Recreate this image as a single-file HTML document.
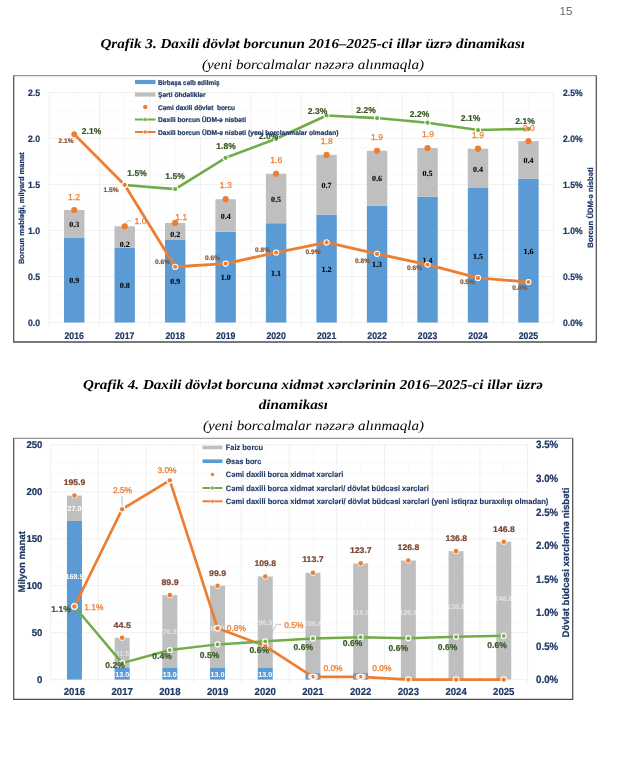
<!DOCTYPE html>
<html lang="az"><head><meta charset="utf-8"><title>Qrafik 3-4</title>
<style>html,body{margin:0;padding:0;background:#fff}body{width:620px;height:760px;overflow:hidden;font-family:"Liberation Sans",sans-serif}svg{display:block;will-change:transform;transform:translateZ(0);text-rendering:geometricPrecision}</style></head>
<body>
<svg width="620" height="760" viewBox="0 0 620 760">
<rect x="0" y="0" width="620" height="760" fill="#ffffff"/>
<text x="566.00" y="15.42" font-family='"Liberation Sans", sans-serif' font-size="11.5" font-weight="normal" font-style="normal" fill="#6b6b6b" text-anchor="middle" >15</text>
<text x="100.4" y="48.2" font-family='"Liberation Serif", serif' font-size="13.6" font-weight="bold" font-style="italic" fill="#000" text-anchor="start" textLength="424.6" lengthAdjust="spacingAndGlyphs">Qrafik 3. Daxili dövlət borcunun 2016–2025-ci illər üzrə dinamikası</text>
<text x="202.0" y="68.6" font-family='"Liberation Serif", serif' font-size="13.6" font-weight="normal" font-style="italic" fill="#000" text-anchor="start" textLength="222.0" lengthAdjust="spacingAndGlyphs">(yeni borcalmalar nəzərə alınmaqla)</text>
<text x="83.0" y="389.2" font-family='"Liberation Serif", serif' font-size="13.6" font-weight="bold" font-style="italic" fill="#000" text-anchor="start" textLength="460.0" lengthAdjust="spacingAndGlyphs">Qrafik 4. Daxili dövlət borcuna xidmət xərclərinin 2016–2025-ci illər üzrə</text>
<text x="258.7" y="409.4" font-family='"Liberation Serif", serif' font-size="13.6" font-weight="bold" font-style="italic" fill="#000" text-anchor="start" textLength="69.3" lengthAdjust="spacingAndGlyphs">dinamikası</text>
<text x="203.0" y="429.6" font-family='"Liberation Serif", serif' font-size="13.6" font-weight="normal" font-style="italic" fill="#000" text-anchor="start" textLength="221.0" lengthAdjust="spacingAndGlyphs">(yeni borcalmalar nəzərə alınmaqla)</text>
<line x1="13.10" y1="75.70" x2="596.90" y2="75.70" stroke="#969696" stroke-width="1.3" />
<line x1="13.10" y1="342.00" x2="596.90" y2="342.00" stroke="#4c4c4c" stroke-width="1.3" />
<line x1="13.70" y1="75.70" x2="13.70" y2="341.80" stroke="#505050" stroke-width="1.25" />
<line x1="596.30" y1="75.70" x2="596.30" y2="341.80" stroke="#505050" stroke-width="1.25" />
<line x1="49.00" y1="313.30" x2="553.70" y2="313.30" stroke="#f8f8f8" stroke-width="0.7" />
<line x1="49.00" y1="304.10" x2="553.70" y2="304.10" stroke="#f8f8f8" stroke-width="0.7" />
<line x1="49.00" y1="294.90" x2="553.70" y2="294.90" stroke="#f8f8f8" stroke-width="0.7" />
<line x1="49.00" y1="285.70" x2="553.70" y2="285.70" stroke="#f8f8f8" stroke-width="0.7" />
<line x1="49.00" y1="267.30" x2="553.70" y2="267.30" stroke="#f8f8f8" stroke-width="0.7" />
<line x1="49.00" y1="258.10" x2="553.70" y2="258.10" stroke="#f8f8f8" stroke-width="0.7" />
<line x1="49.00" y1="248.90" x2="553.70" y2="248.90" stroke="#f8f8f8" stroke-width="0.7" />
<line x1="49.00" y1="239.70" x2="553.70" y2="239.70" stroke="#f8f8f8" stroke-width="0.7" />
<line x1="49.00" y1="221.30" x2="553.70" y2="221.30" stroke="#f8f8f8" stroke-width="0.7" />
<line x1="49.00" y1="212.10" x2="553.70" y2="212.10" stroke="#f8f8f8" stroke-width="0.7" />
<line x1="49.00" y1="202.90" x2="553.70" y2="202.90" stroke="#f8f8f8" stroke-width="0.7" />
<line x1="49.00" y1="193.70" x2="553.70" y2="193.70" stroke="#f8f8f8" stroke-width="0.7" />
<line x1="49.00" y1="175.30" x2="553.70" y2="175.30" stroke="#f8f8f8" stroke-width="0.7" />
<line x1="49.00" y1="166.10" x2="553.70" y2="166.10" stroke="#f8f8f8" stroke-width="0.7" />
<line x1="49.00" y1="156.90" x2="553.70" y2="156.90" stroke="#f8f8f8" stroke-width="0.7" />
<line x1="49.00" y1="147.70" x2="553.70" y2="147.70" stroke="#f8f8f8" stroke-width="0.7" />
<line x1="49.00" y1="129.30" x2="553.70" y2="129.30" stroke="#f8f8f8" stroke-width="0.7" />
<line x1="49.00" y1="120.10" x2="553.70" y2="120.10" stroke="#f8f8f8" stroke-width="0.7" />
<line x1="49.00" y1="110.90" x2="553.70" y2="110.90" stroke="#f8f8f8" stroke-width="0.7" />
<line x1="49.00" y1="101.70" x2="553.70" y2="101.70" stroke="#f8f8f8" stroke-width="0.7" />
<line x1="74.23" y1="92.50" x2="74.23" y2="322.50" stroke="#f8f8f8" stroke-width="0.7" />
<line x1="124.71" y1="92.50" x2="124.71" y2="322.50" stroke="#f8f8f8" stroke-width="0.7" />
<line x1="175.18" y1="92.50" x2="175.18" y2="322.50" stroke="#f8f8f8" stroke-width="0.7" />
<line x1="225.65" y1="92.50" x2="225.65" y2="322.50" stroke="#f8f8f8" stroke-width="0.7" />
<line x1="276.12" y1="92.50" x2="276.12" y2="322.50" stroke="#f8f8f8" stroke-width="0.7" />
<line x1="326.59" y1="92.50" x2="326.59" y2="322.50" stroke="#f8f8f8" stroke-width="0.7" />
<line x1="377.06" y1="92.50" x2="377.06" y2="322.50" stroke="#f8f8f8" stroke-width="0.7" />
<line x1="427.53" y1="92.50" x2="427.53" y2="322.50" stroke="#f8f8f8" stroke-width="0.7" />
<line x1="478.00" y1="92.50" x2="478.00" y2="322.50" stroke="#f8f8f8" stroke-width="0.7" />
<line x1="528.47" y1="92.50" x2="528.47" y2="322.50" stroke="#f8f8f8" stroke-width="0.7" />
<line x1="49.00" y1="322.50" x2="553.70" y2="322.50" stroke="#ececec" stroke-width="0.8" />
<line x1="49.00" y1="276.50" x2="553.70" y2="276.50" stroke="#ececec" stroke-width="0.8" />
<line x1="49.00" y1="230.50" x2="553.70" y2="230.50" stroke="#ececec" stroke-width="0.8" />
<line x1="49.00" y1="184.50" x2="553.70" y2="184.50" stroke="#ececec" stroke-width="0.8" />
<line x1="49.00" y1="138.50" x2="553.70" y2="138.50" stroke="#ececec" stroke-width="0.8" />
<line x1="49.00" y1="92.50" x2="553.70" y2="92.50" stroke="#ececec" stroke-width="0.8" />
<line x1="49.00" y1="92.50" x2="49.00" y2="325.50" stroke="#ececec" stroke-width="0.8" />
<line x1="99.47" y1="92.50" x2="99.47" y2="325.50" stroke="#ececec" stroke-width="0.8" />
<line x1="149.94" y1="92.50" x2="149.94" y2="325.50" stroke="#ececec" stroke-width="0.8" />
<line x1="200.41" y1="92.50" x2="200.41" y2="325.50" stroke="#ececec" stroke-width="0.8" />
<line x1="250.88" y1="92.50" x2="250.88" y2="325.50" stroke="#ececec" stroke-width="0.8" />
<line x1="301.35" y1="92.50" x2="301.35" y2="325.50" stroke="#ececec" stroke-width="0.8" />
<line x1="351.82" y1="92.50" x2="351.82" y2="325.50" stroke="#ececec" stroke-width="0.8" />
<line x1="402.29" y1="92.50" x2="402.29" y2="325.50" stroke="#ececec" stroke-width="0.8" />
<line x1="452.76" y1="92.50" x2="452.76" y2="325.50" stroke="#ececec" stroke-width="0.8" />
<line x1="503.23" y1="92.50" x2="503.23" y2="325.50" stroke="#ececec" stroke-width="0.8" />
<line x1="553.70" y1="92.50" x2="553.70" y2="325.50" stroke="#ececec" stroke-width="0.8" />
<rect x="64.03" y="237.49" width="20.40" height="85.01" fill="#5b9bd5" />
<rect x="64.03" y="209.98" width="20.40" height="27.51" fill="#bfbfbf" />
<rect x="114.51" y="247.52" width="20.40" height="74.98" fill="#5b9bd5" />
<rect x="114.51" y="226.27" width="20.40" height="21.25" fill="#bfbfbf" />
<rect x="164.98" y="239.52" width="20.40" height="82.98" fill="#5b9bd5" />
<rect x="164.98" y="222.96" width="20.40" height="16.56" fill="#bfbfbf" />
<rect x="215.45" y="231.70" width="20.40" height="90.80" fill="#5b9bd5" />
<rect x="215.45" y="199.22" width="20.40" height="32.48" fill="#bfbfbf" />
<rect x="265.92" y="223.23" width="20.40" height="99.27" fill="#5b9bd5" />
<rect x="265.92" y="173.74" width="20.40" height="49.50" fill="#bfbfbf" />
<rect x="316.39" y="214.49" width="20.40" height="108.01" fill="#5b9bd5" />
<rect x="316.39" y="154.88" width="20.40" height="59.62" fill="#bfbfbf" />
<rect x="366.86" y="205.75" width="20.40" height="116.75" fill="#5b9bd5" />
<rect x="366.86" y="150.74" width="20.40" height="55.02" fill="#bfbfbf" />
<rect x="417.33" y="196.74" width="20.40" height="125.76" fill="#5b9bd5" />
<rect x="417.33" y="147.98" width="20.40" height="48.76" fill="#bfbfbf" />
<rect x="467.80" y="188.00" width="20.40" height="134.50" fill="#5b9bd5" />
<rect x="467.80" y="148.71" width="20.40" height="39.28" fill="#bfbfbf" />
<rect x="518.26" y="178.61" width="20.40" height="143.89" fill="#5b9bd5" />
<rect x="518.26" y="141.08" width="20.40" height="37.54" fill="#bfbfbf" />
<text x="74.23" y="283.26" font-family='"Liberation Serif", serif' font-size="8.0" font-weight="bold" font-style="normal" fill="#000" text-anchor="middle" stroke="#000" stroke-width="0.08">0.9</text>
<text x="74.23" y="226.90" font-family='"Liberation Serif", serif' font-size="8.0" font-weight="bold" font-style="normal" fill="#000" text-anchor="middle" stroke="#000" stroke-width="0.08">0.3</text>
<text x="124.71" y="288.27" font-family='"Liberation Serif", serif' font-size="8.0" font-weight="bold" font-style="normal" fill="#000" text-anchor="middle" stroke="#000" stroke-width="0.08">0.8</text>
<text x="124.71" y="247.16" font-family='"Liberation Serif", serif' font-size="8.0" font-weight="bold" font-style="normal" fill="#000" text-anchor="middle" stroke="#000" stroke-width="0.08">0.2</text>
<text x="175.18" y="284.27" font-family='"Liberation Serif", serif' font-size="8.0" font-weight="bold" font-style="normal" fill="#000" text-anchor="middle" stroke="#000" stroke-width="0.08">0.9</text>
<text x="175.18" y="236.86" font-family='"Liberation Serif", serif' font-size="8.0" font-weight="bold" font-style="normal" fill="#000" text-anchor="middle" stroke="#000" stroke-width="0.08">0.2</text>
<text x="225.65" y="280.36" font-family='"Liberation Serif", serif' font-size="8.0" font-weight="bold" font-style="normal" fill="#000" text-anchor="middle" stroke="#000" stroke-width="0.08">1.0</text>
<text x="225.65" y="218.62" font-family='"Liberation Serif", serif' font-size="8.0" font-weight="bold" font-style="normal" fill="#000" text-anchor="middle" stroke="#000" stroke-width="0.08">0.4</text>
<text x="276.12" y="276.13" font-family='"Liberation Serif", serif' font-size="8.0" font-weight="bold" font-style="normal" fill="#000" text-anchor="middle" stroke="#000" stroke-width="0.08">1.1</text>
<text x="276.12" y="201.65" font-family='"Liberation Serif", serif' font-size="8.0" font-weight="bold" font-style="normal" fill="#000" text-anchor="middle" stroke="#000" stroke-width="0.08">0.5</text>
<text x="326.59" y="271.76" font-family='"Liberation Serif", serif' font-size="8.0" font-weight="bold" font-style="normal" fill="#000" text-anchor="middle" stroke="#000" stroke-width="0.08">1.2</text>
<text x="326.59" y="187.85" font-family='"Liberation Serif", serif' font-size="8.0" font-weight="bold" font-style="normal" fill="#000" text-anchor="middle" stroke="#000" stroke-width="0.08">0.7</text>
<text x="377.06" y="267.39" font-family='"Liberation Serif", serif' font-size="8.0" font-weight="bold" font-style="normal" fill="#000" text-anchor="middle" stroke="#000" stroke-width="0.08">1.3</text>
<text x="377.06" y="181.41" font-family='"Liberation Serif", serif' font-size="8.0" font-weight="bold" font-style="normal" fill="#000" text-anchor="middle" stroke="#000" stroke-width="0.08">0.6</text>
<text x="427.53" y="262.88" font-family='"Liberation Serif", serif' font-size="8.0" font-weight="bold" font-style="normal" fill="#000" text-anchor="middle" stroke="#000" stroke-width="0.08">1.4</text>
<text x="427.53" y="175.52" font-family='"Liberation Serif", serif' font-size="8.0" font-weight="bold" font-style="normal" fill="#000" text-anchor="middle" stroke="#000" stroke-width="0.08">0.5</text>
<text x="478.00" y="258.51" font-family='"Liberation Serif", serif' font-size="8.0" font-weight="bold" font-style="normal" fill="#000" text-anchor="middle" stroke="#000" stroke-width="0.08">1.5</text>
<text x="478.00" y="171.52" font-family='"Liberation Serif", serif' font-size="8.0" font-weight="bold" font-style="normal" fill="#000" text-anchor="middle" stroke="#000" stroke-width="0.08">0.4</text>
<text x="528.47" y="253.82" font-family='"Liberation Serif", serif' font-size="8.0" font-weight="bold" font-style="normal" fill="#000" text-anchor="middle" stroke="#000" stroke-width="0.08">1.6</text>
<text x="528.47" y="163.01" font-family='"Liberation Serif", serif' font-size="8.0" font-weight="bold" font-style="normal" fill="#000" text-anchor="middle" stroke="#000" stroke-width="0.08">0.4</text>
<line x1="125.71" y1="223.77" x2="128.21" y2="220.77" stroke="#a6a6a6" stroke-width="0.6" />
<line x1="128.21" y1="220.77" x2="131.71" y2="220.77" stroke="#a6a6a6" stroke-width="0.6" />
<polyline points="124.71,184.96 175.18,189.10 225.65,157.82 276.12,138.78 326.59,115.50 377.06,118.08 427.53,122.68 478.00,130.04 528.47,128.84" fill="none" stroke="#70ad47" stroke-width="2.6" stroke-linejoin="round" stroke-linecap="round"/>
<polyline points="74.23,134.27 124.71,184.96 175.18,266.75 225.65,263.62 276.12,252.58 326.59,242.46 377.06,253.78 427.53,264.54 478.00,277.97 528.47,282.02" fill="none" stroke="#ed7d31" stroke-width="2.8" stroke-linejoin="round" stroke-linecap="round"/>
<circle cx="124.71" cy="184.96" r="3.1" fill="#fff"/>
<circle cx="124.71" cy="184.96" r="2.1" fill="#70ad47"/>
<circle cx="175.18" cy="189.10" r="3.1" fill="#fff"/>
<circle cx="175.18" cy="189.10" r="2.1" fill="#70ad47"/>
<circle cx="225.65" cy="157.82" r="3.1" fill="#fff"/>
<circle cx="225.65" cy="157.82" r="2.1" fill="#70ad47"/>
<circle cx="276.12" cy="138.78" r="3.1" fill="#fff"/>
<circle cx="276.12" cy="138.78" r="2.1" fill="#70ad47"/>
<circle cx="326.59" cy="115.50" r="3.1" fill="#fff"/>
<circle cx="326.59" cy="115.50" r="2.1" fill="#70ad47"/>
<circle cx="377.06" cy="118.08" r="3.1" fill="#fff"/>
<circle cx="377.06" cy="118.08" r="2.1" fill="#70ad47"/>
<circle cx="427.53" cy="122.68" r="3.1" fill="#fff"/>
<circle cx="427.53" cy="122.68" r="2.1" fill="#70ad47"/>
<circle cx="478.00" cy="130.04" r="3.1" fill="#fff"/>
<circle cx="478.00" cy="130.04" r="2.1" fill="#70ad47"/>
<circle cx="528.47" cy="128.84" r="3.1" fill="#fff"/>
<circle cx="528.47" cy="128.84" r="2.1" fill="#70ad47"/>
<circle cx="74.23" cy="134.27" r="2.9" fill="#ed7d31"/>
<circle cx="124.71" cy="184.96" r="3.1" fill="#fff"/>
<circle cx="124.71" cy="184.96" r="2.1" fill="#ed7d31"/>
<circle cx="175.18" cy="266.75" r="3.1" fill="#fff"/>
<circle cx="175.18" cy="266.75" r="2.1" fill="#ed7d31"/>
<circle cx="225.65" cy="263.62" r="3.1" fill="#fff"/>
<circle cx="225.65" cy="263.62" r="2.1" fill="#ed7d31"/>
<circle cx="276.12" cy="252.58" r="3.1" fill="#fff"/>
<circle cx="276.12" cy="252.58" r="2.1" fill="#ed7d31"/>
<circle cx="326.59" cy="242.46" r="3.1" fill="#fff"/>
<circle cx="326.59" cy="242.46" r="2.1" fill="#ed7d31"/>
<circle cx="377.06" cy="253.78" r="3.1" fill="#fff"/>
<circle cx="377.06" cy="253.78" r="2.1" fill="#ed7d31"/>
<circle cx="427.53" cy="264.54" r="3.1" fill="#fff"/>
<circle cx="427.53" cy="264.54" r="2.1" fill="#ed7d31"/>
<circle cx="478.00" cy="277.97" r="3.1" fill="#fff"/>
<circle cx="478.00" cy="277.97" r="2.1" fill="#ed7d31"/>
<circle cx="528.47" cy="282.02" r="3.1" fill="#fff"/>
<circle cx="528.47" cy="282.02" r="2.1" fill="#ed7d31"/>
<circle cx="74.23" cy="209.98" r="3.1" fill="#ed7d31"/>
<circle cx="124.71" cy="226.27" r="3.1" fill="#ed7d31"/>
<circle cx="175.18" cy="222.96" r="3.1" fill="#ed7d31"/>
<circle cx="225.65" cy="199.22" r="3.1" fill="#ed7d31"/>
<circle cx="276.12" cy="173.74" r="3.1" fill="#ed7d31"/>
<circle cx="326.59" cy="154.88" r="3.1" fill="#ed7d31"/>
<circle cx="377.06" cy="150.74" r="3.1" fill="#ed7d31"/>
<circle cx="427.53" cy="147.98" r="3.1" fill="#ed7d31"/>
<circle cx="478.00" cy="148.71" r="3.1" fill="#ed7d31"/>
<circle cx="528.47" cy="141.08" r="3.1" fill="#ed7d31"/>
<text x="74.00" y="199.68" font-family='"Liberation Sans", sans-serif' font-size="8.6" font-weight="normal" font-style="normal" fill="#ed7d31" text-anchor="middle" stroke="#ed7d31" stroke-width="0.25">1.2</text>
<text x="140.50" y="224.28" font-family='"Liberation Sans", sans-serif' font-size="8.6" font-weight="normal" font-style="normal" fill="#ed7d31" text-anchor="middle" stroke="#ed7d31" stroke-width="0.25">1.0</text>
<text x="181.30" y="219.68" font-family='"Liberation Sans", sans-serif' font-size="8.6" font-weight="normal" font-style="normal" fill="#ed7d31" text-anchor="middle" stroke="#ed7d31" stroke-width="0.25">1.1</text>
<text x="225.80" y="188.48" font-family='"Liberation Sans", sans-serif' font-size="8.6" font-weight="normal" font-style="normal" fill="#ed7d31" text-anchor="middle" stroke="#ed7d31" stroke-width="0.25">1.3</text>
<text x="276.30" y="162.98" font-family='"Liberation Sans", sans-serif' font-size="8.6" font-weight="normal" font-style="normal" fill="#ed7d31" text-anchor="middle" stroke="#ed7d31" stroke-width="0.25">1.6</text>
<text x="326.80" y="144.18" font-family='"Liberation Sans", sans-serif' font-size="8.6" font-weight="normal" font-style="normal" fill="#ed7d31" text-anchor="middle" stroke="#ed7d31" stroke-width="0.25">1.8</text>
<text x="377.00" y="139.98" font-family='"Liberation Sans", sans-serif' font-size="8.6" font-weight="normal" font-style="normal" fill="#ed7d31" text-anchor="middle" stroke="#ed7d31" stroke-width="0.25">1.9</text>
<text x="428.00" y="137.48" font-family='"Liberation Sans", sans-serif' font-size="8.6" font-weight="normal" font-style="normal" fill="#ed7d31" text-anchor="middle" stroke="#ed7d31" stroke-width="0.25">1.9</text>
<text x="478.00" y="137.98" font-family='"Liberation Sans", sans-serif' font-size="8.6" font-weight="normal" font-style="normal" fill="#ed7d31" text-anchor="middle" stroke="#ed7d31" stroke-width="0.25">1.9</text>
<text x="528.80" y="130.98" font-family='"Liberation Sans", sans-serif' font-size="8.6" font-weight="normal" font-style="normal" fill="#ed7d31" text-anchor="middle" stroke="#ed7d31" stroke-width="0.25">2.0</text>
<text x="91.50" y="133.84" font-family='"Liberation Sans", sans-serif' font-size="8.5" font-weight="bold" font-style="normal" fill="#375623" text-anchor="middle"  stroke="#375623" stroke-width="0.22">2.1%</text>
<text x="137.00" y="175.54" font-family='"Liberation Sans", sans-serif' font-size="8.5" font-weight="bold" font-style="normal" fill="#375623" text-anchor="middle"  stroke="#375623" stroke-width="0.22">1.5%</text>
<text x="175.00" y="179.34" font-family='"Liberation Sans", sans-serif' font-size="8.5" font-weight="bold" font-style="normal" fill="#375623" text-anchor="middle"  stroke="#375623" stroke-width="0.22">1.5%</text>
<text x="226.00" y="149.04" font-family='"Liberation Sans", sans-serif' font-size="8.5" font-weight="bold" font-style="normal" fill="#375623" text-anchor="middle"  stroke="#375623" stroke-width="0.22">1.8%</text>
<text x="268.50" y="139.34" font-family='"Liberation Sans", sans-serif' font-size="8.5" font-weight="bold" font-style="normal" fill="#375623" text-anchor="middle"  stroke="#375623" stroke-width="0.22">2.0%</text>
<text x="317.50" y="113.54" font-family='"Liberation Sans", sans-serif' font-size="8.5" font-weight="bold" font-style="normal" fill="#375623" text-anchor="middle"  stroke="#375623" stroke-width="0.22">2.3%</text>
<text x="366.00" y="113.04" font-family='"Liberation Sans", sans-serif' font-size="8.5" font-weight="bold" font-style="normal" fill="#375623" text-anchor="middle"  stroke="#375623" stroke-width="0.22">2.2%</text>
<text x="419.50" y="116.84" font-family='"Liberation Sans", sans-serif' font-size="8.5" font-weight="bold" font-style="normal" fill="#375623" text-anchor="middle"  stroke="#375623" stroke-width="0.22">2.2%</text>
<text x="470.50" y="120.54" font-family='"Liberation Sans", sans-serif' font-size="8.5" font-weight="bold" font-style="normal" fill="#375623" text-anchor="middle"  stroke="#375623" stroke-width="0.22">2.1%</text>
<text x="525.00" y="124.34" font-family='"Liberation Sans", sans-serif' font-size="8.5" font-weight="bold" font-style="normal" fill="#375623" text-anchor="middle"  stroke="#375623" stroke-width="0.22">2.1%</text>
<text x="66.00" y="142.66" font-family='"Liberation Sans", sans-serif' font-size="6.6" font-weight="bold" font-style="normal" fill="#8b5434" text-anchor="middle"  stroke="#8b5434" stroke-width="0.22">2.1%</text>
<text x="111.00" y="191.86" font-family='"Liberation Sans", sans-serif' font-size="6.6" font-weight="bold" font-style="normal" fill="#8b5434" text-anchor="middle"  stroke="#8b5434" stroke-width="0.22">1.5%</text>
<text x="162.50" y="264.36" font-family='"Liberation Sans", sans-serif' font-size="6.6" font-weight="bold" font-style="normal" fill="#8b5434" text-anchor="middle"  stroke="#8b5434" stroke-width="0.22">0.6%</text>
<text x="212.50" y="260.36" font-family='"Liberation Sans", sans-serif' font-size="6.6" font-weight="bold" font-style="normal" fill="#8b5434" text-anchor="middle"  stroke="#8b5434" stroke-width="0.22">0.6%</text>
<text x="262.50" y="251.66" font-family='"Liberation Sans", sans-serif' font-size="6.6" font-weight="bold" font-style="normal" fill="#8b5434" text-anchor="middle"  stroke="#8b5434" stroke-width="0.22">0.8%</text>
<text x="313.00" y="254.36" font-family='"Liberation Sans", sans-serif' font-size="6.6" font-weight="bold" font-style="normal" fill="#8b5434" text-anchor="middle"  stroke="#8b5434" stroke-width="0.22">0.9%</text>
<text x="362.50" y="262.86" font-family='"Liberation Sans", sans-serif' font-size="6.6" font-weight="bold" font-style="normal" fill="#8b5434" text-anchor="middle"  stroke="#8b5434" stroke-width="0.22">0.8%</text>
<text x="414.50" y="270.36" font-family='"Liberation Sans", sans-serif' font-size="6.6" font-weight="bold" font-style="normal" fill="#8b5434" text-anchor="middle"  stroke="#8b5434" stroke-width="0.22">0.6%</text>
<text x="467.40" y="284.36" font-family='"Liberation Sans", sans-serif' font-size="6.6" font-weight="bold" font-style="normal" fill="#8b5434" text-anchor="middle"  stroke="#8b5434" stroke-width="0.22">0.5%</text>
<text x="519.80" y="289.66" font-family='"Liberation Sans", sans-serif' font-size="6.6" font-weight="bold" font-style="normal" fill="#8b5434" text-anchor="middle"  stroke="#8b5434" stroke-width="0.22">0.4%</text>
<text x="28.00" y="325.94" font-family='"Liberation Sans", sans-serif' font-size="9.2" font-weight="bold" font-style="normal" fill="#1f3864" text-anchor="start" textLength="12.1" lengthAdjust="spacingAndGlyphs" stroke="#1f3864" stroke-width="0.22">0.0</text>
<text x="563.00" y="325.94" font-family='"Liberation Sans", sans-serif' font-size="9.2" font-weight="bold" font-style="normal" fill="#1f3864" text-anchor="start" textLength="19.6" lengthAdjust="spacingAndGlyphs" stroke="#1f3864" stroke-width="0.22">0.0%</text>
<text x="28.00" y="279.94" font-family='"Liberation Sans", sans-serif' font-size="9.2" font-weight="bold" font-style="normal" fill="#1f3864" text-anchor="start" textLength="12.1" lengthAdjust="spacingAndGlyphs" stroke="#1f3864" stroke-width="0.22">0.5</text>
<text x="563.00" y="279.94" font-family='"Liberation Sans", sans-serif' font-size="9.2" font-weight="bold" font-style="normal" fill="#1f3864" text-anchor="start" textLength="19.6" lengthAdjust="spacingAndGlyphs" stroke="#1f3864" stroke-width="0.22">0.5%</text>
<text x="28.00" y="233.94" font-family='"Liberation Sans", sans-serif' font-size="9.2" font-weight="bold" font-style="normal" fill="#1f3864" text-anchor="start" textLength="12.1" lengthAdjust="spacingAndGlyphs" stroke="#1f3864" stroke-width="0.22">1.0</text>
<text x="563.00" y="233.94" font-family='"Liberation Sans", sans-serif' font-size="9.2" font-weight="bold" font-style="normal" fill="#1f3864" text-anchor="start" textLength="19.6" lengthAdjust="spacingAndGlyphs" stroke="#1f3864" stroke-width="0.22">1.0%</text>
<text x="28.00" y="187.94" font-family='"Liberation Sans", sans-serif' font-size="9.2" font-weight="bold" font-style="normal" fill="#1f3864" text-anchor="start" textLength="12.1" lengthAdjust="spacingAndGlyphs" stroke="#1f3864" stroke-width="0.22">1.5</text>
<text x="563.00" y="187.94" font-family='"Liberation Sans", sans-serif' font-size="9.2" font-weight="bold" font-style="normal" fill="#1f3864" text-anchor="start" textLength="19.6" lengthAdjust="spacingAndGlyphs" stroke="#1f3864" stroke-width="0.22">1.5%</text>
<text x="28.00" y="141.94" font-family='"Liberation Sans", sans-serif' font-size="9.2" font-weight="bold" font-style="normal" fill="#1f3864" text-anchor="start" textLength="12.1" lengthAdjust="spacingAndGlyphs" stroke="#1f3864" stroke-width="0.22">2.0</text>
<text x="563.00" y="141.94" font-family='"Liberation Sans", sans-serif' font-size="9.2" font-weight="bold" font-style="normal" fill="#1f3864" text-anchor="start" textLength="19.6" lengthAdjust="spacingAndGlyphs" stroke="#1f3864" stroke-width="0.22">2.0%</text>
<text x="28.00" y="95.94" font-family='"Liberation Sans", sans-serif' font-size="9.2" font-weight="bold" font-style="normal" fill="#1f3864" text-anchor="start" textLength="12.1" lengthAdjust="spacingAndGlyphs" stroke="#1f3864" stroke-width="0.22">2.5</text>
<text x="563.00" y="95.94" font-family='"Liberation Sans", sans-serif' font-size="9.2" font-weight="bold" font-style="normal" fill="#1f3864" text-anchor="start" textLength="19.6" lengthAdjust="spacingAndGlyphs" stroke="#1f3864" stroke-width="0.22">2.5%</text>
<text x="64.53" y="338.94" font-family='"Liberation Sans", sans-serif' font-size="9.6" font-weight="bold" font-style="normal" fill="#1f3864" text-anchor="start" textLength="19.4" lengthAdjust="spacingAndGlyphs" stroke="#1f3864" stroke-width="0.22">2016</text>
<text x="115.01" y="338.94" font-family='"Liberation Sans", sans-serif' font-size="9.6" font-weight="bold" font-style="normal" fill="#1f3864" text-anchor="start" textLength="19.4" lengthAdjust="spacingAndGlyphs" stroke="#1f3864" stroke-width="0.22">2017</text>
<text x="165.48" y="338.94" font-family='"Liberation Sans", sans-serif' font-size="9.6" font-weight="bold" font-style="normal" fill="#1f3864" text-anchor="start" textLength="19.4" lengthAdjust="spacingAndGlyphs" stroke="#1f3864" stroke-width="0.22">2018</text>
<text x="215.95" y="338.94" font-family='"Liberation Sans", sans-serif' font-size="9.6" font-weight="bold" font-style="normal" fill="#1f3864" text-anchor="start" textLength="19.4" lengthAdjust="spacingAndGlyphs" stroke="#1f3864" stroke-width="0.22">2019</text>
<text x="266.42" y="338.94" font-family='"Liberation Sans", sans-serif' font-size="9.6" font-weight="bold" font-style="normal" fill="#1f3864" text-anchor="start" textLength="19.4" lengthAdjust="spacingAndGlyphs" stroke="#1f3864" stroke-width="0.22">2020</text>
<text x="316.89" y="338.94" font-family='"Liberation Sans", sans-serif' font-size="9.6" font-weight="bold" font-style="normal" fill="#1f3864" text-anchor="start" textLength="19.4" lengthAdjust="spacingAndGlyphs" stroke="#1f3864" stroke-width="0.22">2021</text>
<text x="367.36" y="338.94" font-family='"Liberation Sans", sans-serif' font-size="9.6" font-weight="bold" font-style="normal" fill="#1f3864" text-anchor="start" textLength="19.4" lengthAdjust="spacingAndGlyphs" stroke="#1f3864" stroke-width="0.22">2022</text>
<text x="417.83" y="338.94" font-family='"Liberation Sans", sans-serif' font-size="9.6" font-weight="bold" font-style="normal" fill="#1f3864" text-anchor="start" textLength="19.4" lengthAdjust="spacingAndGlyphs" stroke="#1f3864" stroke-width="0.22">2023</text>
<text x="468.30" y="338.94" font-family='"Liberation Sans", sans-serif' font-size="9.6" font-weight="bold" font-style="normal" fill="#1f3864" text-anchor="start" textLength="19.4" lengthAdjust="spacingAndGlyphs" stroke="#1f3864" stroke-width="0.22">2024</text>
<text x="518.76" y="338.94" font-family='"Liberation Sans", sans-serif' font-size="9.6" font-weight="bold" font-style="normal" fill="#1f3864" text-anchor="start" textLength="19.4" lengthAdjust="spacingAndGlyphs" stroke="#1f3864" stroke-width="0.22">2025</text>
<text transform="translate(21.70,208.20) rotate(-90)" x="0" y="2.69" font-family='"Liberation Sans", sans-serif' font-size="7.5" font-weight="bold" fill="#1f3864" stroke="#1f3864" stroke-width="0.22" text-anchor="middle" >Borcun məbləği, milyard manat</text>
<text transform="translate(590.30,207.50) rotate(-90)" x="0" y="2.76" font-family='"Liberation Sans", sans-serif' font-size="7.7" font-weight="bold" fill="#1f3864" stroke="#1f3864" stroke-width="0.22" text-anchor="middle" >Borcun ÜDM-ə nisbəti</text>
<rect x="135.00" y="79.90" width="20.50" height="4.20" fill="#5b9bd5" />
<rect x="135.00" y="92.40" width="20.50" height="4.20" fill="#bfbfbf" />
<circle cx="145.25" cy="107.00" r="2.2" fill="#ed7d31"/>
<line x1="135.00" y1="119.50" x2="155.50" y2="119.50" stroke="#70ad47" stroke-width="2.0" />
<circle cx="145.25" cy="119.50" r="1.9" fill="#70ad47" stroke="#fff" stroke-width="0.6"/>
<line x1="135.00" y1="132.00" x2="155.50" y2="132.00" stroke="#ed7d31" stroke-width="2.0" />
<circle cx="145.25" cy="132.00" r="1.9" fill="#ed7d31" stroke="#fff" stroke-width="0.6"/>
<text x="158.00" y="84.83" font-family='"Liberation Sans", sans-serif' font-size="6.8" font-weight="bold" font-style="normal" fill="#1f3864" text-anchor="start" textLength="61.5" lengthAdjust="spacingAndGlyphs" stroke="#1f3864" stroke-width="0.2">Birbaşa cəlb edilmiş</text>
<text x="158.00" y="97.33" font-family='"Liberation Sans", sans-serif' font-size="6.8" font-weight="bold" font-style="normal" fill="#1f3864" text-anchor="start" textLength="47.5" lengthAdjust="spacingAndGlyphs" stroke="#1f3864" stroke-width="0.2">Şərti öhdəliklər</text>
<text x="158.00" y="109.83" font-family='"Liberation Sans", sans-serif' font-size="6.8" font-weight="bold" font-style="normal" fill="#1f3864" text-anchor="start" textLength="77.0" lengthAdjust="spacingAndGlyphs" stroke="#1f3864" stroke-width="0.2">Cəmi daxili dövlət  borcu</text>
<text x="158.00" y="122.33" font-family='"Liberation Sans", sans-serif' font-size="6.8" font-weight="bold" font-style="normal" fill="#1f3864" text-anchor="start" textLength="88.0" lengthAdjust="spacingAndGlyphs" stroke="#1f3864" stroke-width="0.2">Daxili borcun ÜDM-ə nisbəti</text>
<text x="158.00" y="134.83" font-family='"Liberation Sans", sans-serif' font-size="6.8" font-weight="bold" font-style="normal" fill="#1f3864" text-anchor="start" textLength="180.4" lengthAdjust="spacingAndGlyphs" stroke="#1f3864" stroke-width="0.2">Daxili borcun ÜDM-ə nisbəti (yeni borclanmalar olmadan)</text>
<line x1="13.10" y1="438.40" x2="573.30" y2="438.40" stroke="#969696" stroke-width="1.3" />
<line x1="13.10" y1="699.30" x2="573.30" y2="699.30" stroke="#4c4c4c" stroke-width="1.3" />
<line x1="13.70" y1="438.40" x2="13.70" y2="699.10" stroke="#505050" stroke-width="1.25" />
<line x1="572.70" y1="438.40" x2="572.70" y2="699.10" stroke="#505050" stroke-width="1.25" />
<line x1="50.60" y1="670.21" x2="527.60" y2="670.21" stroke="#f8f8f8" stroke-width="0.7" />
<line x1="50.60" y1="660.82" x2="527.60" y2="660.82" stroke="#f8f8f8" stroke-width="0.7" />
<line x1="50.60" y1="651.42" x2="527.60" y2="651.42" stroke="#f8f8f8" stroke-width="0.7" />
<line x1="50.60" y1="642.03" x2="527.60" y2="642.03" stroke="#f8f8f8" stroke-width="0.7" />
<line x1="50.60" y1="623.25" x2="527.60" y2="623.25" stroke="#f8f8f8" stroke-width="0.7" />
<line x1="50.60" y1="613.86" x2="527.60" y2="613.86" stroke="#f8f8f8" stroke-width="0.7" />
<line x1="50.60" y1="604.46" x2="527.60" y2="604.46" stroke="#f8f8f8" stroke-width="0.7" />
<line x1="50.60" y1="595.07" x2="527.60" y2="595.07" stroke="#f8f8f8" stroke-width="0.7" />
<line x1="50.60" y1="576.29" x2="527.60" y2="576.29" stroke="#f8f8f8" stroke-width="0.7" />
<line x1="50.60" y1="566.90" x2="527.60" y2="566.90" stroke="#f8f8f8" stroke-width="0.7" />
<line x1="50.60" y1="557.50" x2="527.60" y2="557.50" stroke="#f8f8f8" stroke-width="0.7" />
<line x1="50.60" y1="548.11" x2="527.60" y2="548.11" stroke="#f8f8f8" stroke-width="0.7" />
<line x1="50.60" y1="529.33" x2="527.60" y2="529.33" stroke="#f8f8f8" stroke-width="0.7" />
<line x1="50.60" y1="519.94" x2="527.60" y2="519.94" stroke="#f8f8f8" stroke-width="0.7" />
<line x1="50.60" y1="510.54" x2="527.60" y2="510.54" stroke="#f8f8f8" stroke-width="0.7" />
<line x1="50.60" y1="501.15" x2="527.60" y2="501.15" stroke="#f8f8f8" stroke-width="0.7" />
<line x1="50.60" y1="482.37" x2="527.60" y2="482.37" stroke="#f8f8f8" stroke-width="0.7" />
<line x1="50.60" y1="472.98" x2="527.60" y2="472.98" stroke="#f8f8f8" stroke-width="0.7" />
<line x1="50.60" y1="463.58" x2="527.60" y2="463.58" stroke="#f8f8f8" stroke-width="0.7" />
<line x1="50.60" y1="454.19" x2="527.60" y2="454.19" stroke="#f8f8f8" stroke-width="0.7" />
<line x1="74.45" y1="444.80" x2="74.45" y2="679.60" stroke="#f8f8f8" stroke-width="0.7" />
<line x1="122.15" y1="444.80" x2="122.15" y2="679.60" stroke="#f8f8f8" stroke-width="0.7" />
<line x1="169.85" y1="444.80" x2="169.85" y2="679.60" stroke="#f8f8f8" stroke-width="0.7" />
<line x1="217.55" y1="444.80" x2="217.55" y2="679.60" stroke="#f8f8f8" stroke-width="0.7" />
<line x1="265.25" y1="444.80" x2="265.25" y2="679.60" stroke="#f8f8f8" stroke-width="0.7" />
<line x1="312.95" y1="444.80" x2="312.95" y2="679.60" stroke="#f8f8f8" stroke-width="0.7" />
<line x1="360.65" y1="444.80" x2="360.65" y2="679.60" stroke="#f8f8f8" stroke-width="0.7" />
<line x1="408.35" y1="444.80" x2="408.35" y2="679.60" stroke="#f8f8f8" stroke-width="0.7" />
<line x1="456.05" y1="444.80" x2="456.05" y2="679.60" stroke="#f8f8f8" stroke-width="0.7" />
<line x1="503.75" y1="444.80" x2="503.75" y2="679.60" stroke="#f8f8f8" stroke-width="0.7" />
<line x1="50.60" y1="679.60" x2="527.60" y2="679.60" stroke="#ececec" stroke-width="0.8" />
<line x1="50.60" y1="632.64" x2="527.60" y2="632.64" stroke="#ececec" stroke-width="0.8" />
<line x1="50.60" y1="585.68" x2="527.60" y2="585.68" stroke="#ececec" stroke-width="0.8" />
<line x1="50.60" y1="538.72" x2="527.60" y2="538.72" stroke="#ececec" stroke-width="0.8" />
<line x1="50.60" y1="491.76" x2="527.60" y2="491.76" stroke="#ececec" stroke-width="0.8" />
<line x1="50.60" y1="444.80" x2="527.60" y2="444.80" stroke="#ececec" stroke-width="0.8" />
<line x1="50.60" y1="444.80" x2="50.60" y2="682.60" stroke="#ececec" stroke-width="0.8" />
<line x1="98.30" y1="444.80" x2="98.30" y2="682.60" stroke="#ececec" stroke-width="0.8" />
<line x1="146.00" y1="444.80" x2="146.00" y2="682.60" stroke="#ececec" stroke-width="0.8" />
<line x1="193.70" y1="444.80" x2="193.70" y2="682.60" stroke="#ececec" stroke-width="0.8" />
<line x1="241.40" y1="444.80" x2="241.40" y2="682.60" stroke="#ececec" stroke-width="0.8" />
<line x1="289.10" y1="444.80" x2="289.10" y2="682.60" stroke="#ececec" stroke-width="0.8" />
<line x1="336.80" y1="444.80" x2="336.80" y2="682.60" stroke="#ececec" stroke-width="0.8" />
<line x1="384.50" y1="444.80" x2="384.50" y2="682.60" stroke="#ececec" stroke-width="0.8" />
<line x1="432.20" y1="444.80" x2="432.20" y2="682.60" stroke="#ececec" stroke-width="0.8" />
<line x1="479.90" y1="444.80" x2="479.90" y2="682.60" stroke="#ececec" stroke-width="0.8" />
<line x1="527.60" y1="444.80" x2="527.60" y2="682.60" stroke="#ececec" stroke-width="0.8" />
<rect x="66.95" y="520.97" width="15.00" height="158.63" fill="#5b9bd5" />
<rect x="66.95" y="495.61" width="15.00" height="25.36" fill="#bfbfbf" />
<rect x="114.65" y="667.39" width="15.00" height="12.21" fill="#5b9bd5" />
<rect x="114.65" y="637.81" width="15.00" height="29.58" fill="#bfbfbf" />
<rect x="162.35" y="667.39" width="15.00" height="12.21" fill="#5b9bd5" />
<rect x="162.35" y="595.17" width="15.00" height="72.22" fill="#bfbfbf" />
<rect x="210.05" y="667.39" width="15.00" height="12.21" fill="#5b9bd5" />
<rect x="210.05" y="585.77" width="15.00" height="81.62" fill="#bfbfbf" />
<rect x="257.75" y="667.39" width="15.00" height="12.21" fill="#5b9bd5" />
<rect x="257.75" y="576.48" width="15.00" height="90.91" fill="#bfbfbf" />
<rect x="305.45" y="673.12" width="15.00" height="6.48" fill="#5b9bd5" />
<rect x="305.45" y="572.81" width="15.00" height="100.31" fill="#bfbfbf" />
<rect x="353.15" y="673.12" width="15.00" height="6.48" fill="#5b9bd5" />
<rect x="353.15" y="563.42" width="15.00" height="109.70" fill="#bfbfbf" />
<rect x="400.85" y="560.51" width="15.00" height="119.09" fill="#bfbfbf" />
<rect x="448.55" y="551.12" width="15.00" height="128.48" fill="#bfbfbf" />
<rect x="496.25" y="541.73" width="15.00" height="137.87" fill="#bfbfbf" />
<text x="74.45" y="511.38" font-family='"Liberation Sans", sans-serif' font-size="7.2" font-weight="bold" font-style="normal" fill="#ffffff" text-anchor="middle" fill-opacity="1.0">27.0</text>
<text x="74.45" y="578.88" font-family='"Liberation Sans", sans-serif' font-size="7.2" font-weight="bold" font-style="normal" fill="#ffffff" text-anchor="middle" fill-opacity="1.0">168.9</text>
<text x="122.15" y="655.58" font-family='"Liberation Sans", sans-serif' font-size="7.2" font-weight="bold" font-style="normal" fill="#ffffff" text-anchor="middle" fill-opacity="0.55">31.5</text>
<text x="122.15" y="677.08" font-family='"Liberation Sans", sans-serif' font-size="7.2" font-weight="bold" font-style="normal" fill="#ffffff" text-anchor="middle" fill-opacity="1.0">13.0</text>
<text x="169.85" y="633.88" font-family='"Liberation Sans", sans-serif' font-size="7.2" font-weight="bold" font-style="normal" fill="#ffffff" text-anchor="middle" fill-opacity="0.55">76.9</text>
<text x="169.85" y="677.08" font-family='"Liberation Sans", sans-serif' font-size="7.2" font-weight="bold" font-style="normal" fill="#ffffff" text-anchor="middle" fill-opacity="1.0">13.0</text>
<text x="217.55" y="630.58" font-family='"Liberation Sans", sans-serif' font-size="7.2" font-weight="bold" font-style="normal" fill="#ffffff" text-anchor="middle" fill-opacity="0.55">86.9</text>
<text x="217.55" y="677.08" font-family='"Liberation Sans", sans-serif' font-size="7.2" font-weight="bold" font-style="normal" fill="#ffffff" text-anchor="middle" fill-opacity="1.0">13.0</text>
<text x="265.25" y="624.58" font-family='"Liberation Sans", sans-serif' font-size="7.2" font-weight="bold" font-style="normal" fill="#ffffff" text-anchor="middle" fill-opacity="0.55">96.9</text>
<text x="265.25" y="677.08" font-family='"Liberation Sans", sans-serif' font-size="7.2" font-weight="bold" font-style="normal" fill="#ffffff" text-anchor="middle" fill-opacity="1.0">13.0</text>
<text x="312.95" y="625.58" font-family='"Liberation Sans", sans-serif' font-size="7.2" font-weight="bold" font-style="normal" fill="#ffffff" text-anchor="middle" fill-opacity="0.55">106.8</text>
<text x="360.65" y="614.58" font-family='"Liberation Sans", sans-serif' font-size="7.2" font-weight="bold" font-style="normal" fill="#ffffff" text-anchor="middle" fill-opacity="0.55">116.8</text>
<text x="408.35" y="614.58" font-family='"Liberation Sans", sans-serif' font-size="7.2" font-weight="bold" font-style="normal" fill="#ffffff" text-anchor="middle" fill-opacity="0.55">126.8</text>
<text x="456.05" y="608.88" font-family='"Liberation Sans", sans-serif' font-size="7.2" font-weight="bold" font-style="normal" fill="#ffffff" text-anchor="middle" fill-opacity="0.55">136.8</text>
<text x="503.75" y="600.88" font-family='"Liberation Sans", sans-serif' font-size="7.2" font-weight="bold" font-style="normal" fill="#ffffff" text-anchor="middle" fill-opacity="0.55">146.8</text>
<line x1="122.15" y1="507.20" x2="122.15" y2="496.00" stroke="#999999" stroke-width="0.6" />
<polyline points="265.25,646.06 276.30,624.40 281.00,624.40" fill="none" stroke="#bcbcbc" stroke-width="0.9" stroke-linejoin="round" stroke-linecap="round"/>
<polyline points="74.45,606.48 122.15,509.20 169.85,480.36 217.55,628.15 265.25,646.06 312.95,676.92 360.65,676.92 408.35,679.60 456.05,679.60 503.75,679.60" fill="none" stroke="#ed7d31" stroke-width="2.7" stroke-linejoin="round" stroke-linecap="round"/>
<polyline points="74.45,606.48 122.15,663.16 169.85,650.08 217.55,644.38 265.25,641.36 312.95,638.41 360.65,637.13 408.35,638.14 456.05,636.87 503.75,635.86" fill="none" stroke="#70ad47" stroke-width="2.5" stroke-linejoin="round" stroke-linecap="round"/>
<circle cx="74.45" cy="606.48" r="3.4" fill="#fff"/>
<circle cx="74.45" cy="606.48" r="2.2" fill="#ed7d31"/>
<circle cx="122.15" cy="509.20" r="3.4" fill="#fff"/>
<circle cx="122.15" cy="509.20" r="2.2" fill="#ed7d31"/>
<circle cx="169.85" cy="480.36" r="3.4" fill="#fff"/>
<circle cx="169.85" cy="480.36" r="2.2" fill="#ed7d31"/>
<circle cx="217.55" cy="628.15" r="3.4" fill="#fff"/>
<circle cx="217.55" cy="628.15" r="2.2" fill="#ed7d31"/>
<circle cx="265.25" cy="646.06" r="3.4" fill="#fff"/>
<circle cx="265.25" cy="646.06" r="2.2" fill="#ed7d31"/>
<circle cx="312.95" cy="676.92" r="3.4" fill="#fff"/>
<circle cx="312.95" cy="676.92" r="2.2" fill="#ed7d31"/>
<circle cx="360.65" cy="676.92" r="3.4" fill="#fff"/>
<circle cx="360.65" cy="676.92" r="2.2" fill="#ed7d31"/>
<circle cx="408.35" cy="679.60" r="3.4" fill="#fff"/>
<circle cx="408.35" cy="679.60" r="2.2" fill="#ed7d31"/>
<circle cx="456.05" cy="679.60" r="3.4" fill="#fff"/>
<circle cx="456.05" cy="679.60" r="2.2" fill="#ed7d31"/>
<circle cx="503.75" cy="679.60" r="3.4" fill="#fff"/>
<circle cx="503.75" cy="679.60" r="2.2" fill="#ed7d31"/>
<circle cx="122.15" cy="663.16" r="3.1" fill="#fff"/>
<circle cx="122.15" cy="663.16" r="1.9" fill="#70ad47"/>
<circle cx="169.85" cy="650.08" r="3.1" fill="#fff"/>
<circle cx="169.85" cy="650.08" r="1.9" fill="#70ad47"/>
<circle cx="217.55" cy="644.38" r="3.1" fill="#fff"/>
<circle cx="217.55" cy="644.38" r="1.9" fill="#70ad47"/>
<circle cx="265.25" cy="641.36" r="3.1" fill="#fff"/>
<circle cx="265.25" cy="641.36" r="1.9" fill="#70ad47"/>
<circle cx="312.95" cy="638.41" r="3.1" fill="#fff"/>
<circle cx="312.95" cy="638.41" r="1.9" fill="#70ad47"/>
<circle cx="360.65" cy="637.13" r="3.1" fill="#fff"/>
<circle cx="360.65" cy="637.13" r="1.9" fill="#70ad47"/>
<circle cx="408.35" cy="638.14" r="3.1" fill="#fff"/>
<circle cx="408.35" cy="638.14" r="1.9" fill="#70ad47"/>
<circle cx="456.05" cy="636.87" r="3.1" fill="#fff"/>
<circle cx="456.05" cy="636.87" r="1.9" fill="#70ad47"/>
<circle cx="503.75" cy="635.86" r="3.1" fill="#fff"/>
<circle cx="503.75" cy="635.86" r="1.9" fill="#70ad47"/>
<text x="312.95" y="678.88" font-family='"Liberation Sans", sans-serif' font-size="7.2" font-weight="bold" font-style="normal" fill="#ffffff" text-anchor="middle" >6.9</text>
<text x="360.65" y="678.88" font-family='"Liberation Sans", sans-serif' font-size="7.2" font-weight="bold" font-style="normal" fill="#ffffff" text-anchor="middle" >6.9</text>
<circle cx="74.45" cy="495.61" r="2.9" fill="#fff"/>
<circle cx="74.45" cy="495.61" r="2.3" fill="#ed7d31"/>
<circle cx="122.15" cy="637.81" r="2.9" fill="#fff"/>
<circle cx="122.15" cy="637.81" r="2.3" fill="#ed7d31"/>
<circle cx="169.85" cy="595.17" r="2.9" fill="#fff"/>
<circle cx="169.85" cy="595.17" r="2.3" fill="#ed7d31"/>
<circle cx="217.55" cy="585.77" r="2.9" fill="#fff"/>
<circle cx="217.55" cy="585.77" r="2.3" fill="#ed7d31"/>
<circle cx="265.25" cy="576.48" r="2.9" fill="#fff"/>
<circle cx="265.25" cy="576.48" r="2.3" fill="#ed7d31"/>
<circle cx="312.95" cy="572.81" r="2.9" fill="#fff"/>
<circle cx="312.95" cy="572.81" r="2.3" fill="#ed7d31"/>
<circle cx="360.65" cy="563.42" r="2.9" fill="#fff"/>
<circle cx="360.65" cy="563.42" r="2.3" fill="#ed7d31"/>
<circle cx="408.35" cy="560.51" r="2.9" fill="#fff"/>
<circle cx="408.35" cy="560.51" r="2.3" fill="#ed7d31"/>
<circle cx="456.05" cy="551.12" r="2.9" fill="#fff"/>
<circle cx="456.05" cy="551.12" r="2.3" fill="#ed7d31"/>
<circle cx="503.75" cy="541.73" r="2.9" fill="#fff"/>
<circle cx="503.75" cy="541.73" r="2.3" fill="#ed7d31"/>
<text x="63.70" y="485.14" font-family='"Liberation Sans", sans-serif' font-size="8.2" font-weight="bold" font-style="normal" fill="#7a4630" text-anchor="start" textLength="21.6" lengthAdjust="spacingAndGlyphs" stroke="#7a4630" stroke-width="0.22">195.9</text>
<text x="113.60" y="627.64" font-family='"Liberation Sans", sans-serif' font-size="8.2" font-weight="bold" font-style="normal" fill="#7a4630" text-anchor="start" textLength="17.2" lengthAdjust="spacingAndGlyphs" stroke="#7a4630" stroke-width="0.22">44.5</text>
<text x="161.40" y="584.64" font-family='"Liberation Sans", sans-serif' font-size="8.2" font-weight="bold" font-style="normal" fill="#7a4630" text-anchor="start" textLength="17.2" lengthAdjust="spacingAndGlyphs" stroke="#7a4630" stroke-width="0.22">89.9</text>
<text x="209.00" y="575.64" font-family='"Liberation Sans", sans-serif' font-size="8.2" font-weight="bold" font-style="normal" fill="#7a4630" text-anchor="start" textLength="17.2" lengthAdjust="spacingAndGlyphs" stroke="#7a4630" stroke-width="0.22">99.9</text>
<text x="254.40" y="566.44" font-family='"Liberation Sans", sans-serif' font-size="8.2" font-weight="bold" font-style="normal" fill="#7a4630" text-anchor="start" textLength="21.6" lengthAdjust="spacingAndGlyphs" stroke="#7a4630" stroke-width="0.22">109.8</text>
<text x="302.20" y="562.14" font-family='"Liberation Sans", sans-serif' font-size="8.2" font-weight="bold" font-style="normal" fill="#7a4630" text-anchor="start" textLength="21.6" lengthAdjust="spacingAndGlyphs" stroke="#7a4630" stroke-width="0.22">113.7</text>
<text x="350.00" y="553.14" font-family='"Liberation Sans", sans-serif' font-size="8.2" font-weight="bold" font-style="normal" fill="#7a4630" text-anchor="start" textLength="21.6" lengthAdjust="spacingAndGlyphs" stroke="#7a4630" stroke-width="0.22">123.7</text>
<text x="397.60" y="550.14" font-family='"Liberation Sans", sans-serif' font-size="8.2" font-weight="bold" font-style="normal" fill="#7a4630" text-anchor="start" textLength="21.6" lengthAdjust="spacingAndGlyphs" stroke="#7a4630" stroke-width="0.22">126.8</text>
<text x="445.50" y="540.64" font-family='"Liberation Sans", sans-serif' font-size="8.2" font-weight="bold" font-style="normal" fill="#7a4630" text-anchor="start" textLength="21.6" lengthAdjust="spacingAndGlyphs" stroke="#7a4630" stroke-width="0.22">136.8</text>
<text x="493.10" y="531.94" font-family='"Liberation Sans", sans-serif' font-size="8.2" font-weight="bold" font-style="normal" fill="#7a4630" text-anchor="start" textLength="21.6" lengthAdjust="spacingAndGlyphs" stroke="#7a4630" stroke-width="0.22">146.8</text>
<text x="61.00" y="611.84" font-family='"Liberation Sans", sans-serif' font-size="8.5" font-weight="bold" font-style="normal" fill="#375623" text-anchor="middle"  stroke="#375623" stroke-width="0.22">1.1%</text>
<text x="115.00" y="667.54" font-family='"Liberation Sans", sans-serif' font-size="8.5" font-weight="bold" font-style="normal" fill="#375623" text-anchor="middle"  stroke="#375623" stroke-width="0.22">0.2%</text>
<text x="162.00" y="659.34" font-family='"Liberation Sans", sans-serif' font-size="8.5" font-weight="bold" font-style="normal" fill="#375623" text-anchor="middle"  stroke="#375623" stroke-width="0.22">0.4%</text>
<text x="209.50" y="657.54" font-family='"Liberation Sans", sans-serif' font-size="8.5" font-weight="bold" font-style="normal" fill="#375623" text-anchor="middle"  stroke="#375623" stroke-width="0.22">0.5%</text>
<text x="259.30" y="653.04" font-family='"Liberation Sans", sans-serif' font-size="8.5" font-weight="bold" font-style="normal" fill="#375623" text-anchor="middle"  stroke="#375623" stroke-width="0.22">0.6%</text>
<text x="303.30" y="650.04" font-family='"Liberation Sans", sans-serif' font-size="8.5" font-weight="bold" font-style="normal" fill="#375623" text-anchor="middle"  stroke="#375623" stroke-width="0.22">0.6%</text>
<text x="352.50" y="646.34" font-family='"Liberation Sans", sans-serif' font-size="8.5" font-weight="bold" font-style="normal" fill="#375623" text-anchor="middle"  stroke="#375623" stroke-width="0.22">0.6%</text>
<text x="398.30" y="651.34" font-family='"Liberation Sans", sans-serif' font-size="8.5" font-weight="bold" font-style="normal" fill="#375623" text-anchor="middle"  stroke="#375623" stroke-width="0.22">0.6%</text>
<text x="447.50" y="650.04" font-family='"Liberation Sans", sans-serif' font-size="8.5" font-weight="bold" font-style="normal" fill="#375623" text-anchor="middle"  stroke="#375623" stroke-width="0.22">0.6%</text>
<text x="497.00" y="647.54" font-family='"Liberation Sans", sans-serif' font-size="8.5" font-weight="bold" font-style="normal" fill="#375623" text-anchor="middle"  stroke="#375623" stroke-width="0.22">0.6%</text>
<text x="93.80" y="609.81" font-family='"Liberation Sans", sans-serif' font-size="8.4" font-weight="normal" font-style="normal" fill="#ed7d31" text-anchor="middle" stroke="#ed7d31" stroke-width="0.3">1.1%</text>
<text x="122.50" y="493.01" font-family='"Liberation Sans", sans-serif' font-size="8.4" font-weight="normal" font-style="normal" fill="#ed7d31" text-anchor="middle" stroke="#ed7d31" stroke-width="0.3">2.5%</text>
<text x="167.00" y="473.11" font-family='"Liberation Sans", sans-serif' font-size="8.4" font-weight="normal" font-style="normal" fill="#ed7d31" text-anchor="middle" stroke="#ed7d31" stroke-width="0.3">3.0%</text>
<text x="236.30" y="631.01" font-family='"Liberation Sans", sans-serif' font-size="8.4" font-weight="normal" font-style="normal" fill="#ed7d31" text-anchor="middle" stroke="#ed7d31" stroke-width="0.3">0.8%</text>
<text x="293.80" y="627.51" font-family='"Liberation Sans", sans-serif' font-size="8.4" font-weight="normal" font-style="normal" fill="#ed7d31" text-anchor="middle" stroke="#ed7d31" stroke-width="0.3">0.5%</text>
<text x="333.00" y="671.01" font-family='"Liberation Sans", sans-serif' font-size="8.4" font-weight="normal" font-style="normal" fill="#ed7d31" text-anchor="middle" stroke="#ed7d31" stroke-width="0.3">0.0%</text>
<text x="381.80" y="671.01" font-family='"Liberation Sans", sans-serif' font-size="8.4" font-weight="normal" font-style="normal" fill="#ed7d31" text-anchor="middle" stroke="#ed7d31" stroke-width="0.3">0.0%</text>
<text transform="translate(42.40,679.30) scale(1,1.03)" x="0" y="3.44" font-family='"Liberation Sans", sans-serif' font-size="9.6" font-weight="bold" fill="#1f3864" stroke="#1f3864" stroke-width="0.22" text-anchor="end">0</text>
<text transform="translate(42.40,632.34) scale(1,1.03)" x="0" y="3.44" font-family='"Liberation Sans", sans-serif' font-size="9.6" font-weight="bold" fill="#1f3864" stroke="#1f3864" stroke-width="0.22" text-anchor="end">50</text>
<text transform="translate(42.40,585.38) scale(1,1.03)" x="0" y="3.44" font-family='"Liberation Sans", sans-serif' font-size="9.6" font-weight="bold" fill="#1f3864" stroke="#1f3864" stroke-width="0.22" text-anchor="end">100</text>
<text transform="translate(42.40,538.42) scale(1,1.03)" x="0" y="3.44" font-family='"Liberation Sans", sans-serif' font-size="9.6" font-weight="bold" fill="#1f3864" stroke="#1f3864" stroke-width="0.22" text-anchor="end">150</text>
<text transform="translate(42.40,491.46) scale(1,1.03)" x="0" y="3.44" font-family='"Liberation Sans", sans-serif' font-size="9.6" font-weight="bold" fill="#1f3864" stroke="#1f3864" stroke-width="0.22" text-anchor="end">200</text>
<text transform="translate(42.40,444.50) scale(1,1.03)" x="0" y="3.44" font-family='"Liberation Sans", sans-serif' font-size="9.6" font-weight="bold" fill="#1f3864" stroke="#1f3864" stroke-width="0.22" text-anchor="end">250</text>
<text transform="translate(547.10,679.40) scale(1,1.1)" x="0" y="3.47" font-family='"Liberation Sans", sans-serif' font-size="9.7" font-weight="bold" fill="#1f3864" stroke="#1f3864" stroke-width="0.22" text-anchor="middle">0.0%</text>
<text transform="translate(547.10,645.86) scale(1,1.1)" x="0" y="3.47" font-family='"Liberation Sans", sans-serif' font-size="9.7" font-weight="bold" fill="#1f3864" stroke="#1f3864" stroke-width="0.22" text-anchor="middle">0.5%</text>
<text transform="translate(547.10,612.31) scale(1,1.1)" x="0" y="3.47" font-family='"Liberation Sans", sans-serif' font-size="9.7" font-weight="bold" fill="#1f3864" stroke="#1f3864" stroke-width="0.22" text-anchor="middle">1.0%</text>
<text transform="translate(547.10,578.77) scale(1,1.1)" x="0" y="3.47" font-family='"Liberation Sans", sans-serif' font-size="9.7" font-weight="bold" fill="#1f3864" stroke="#1f3864" stroke-width="0.22" text-anchor="middle">1.5%</text>
<text transform="translate(547.10,545.23) scale(1,1.1)" x="0" y="3.47" font-family='"Liberation Sans", sans-serif' font-size="9.7" font-weight="bold" fill="#1f3864" stroke="#1f3864" stroke-width="0.22" text-anchor="middle">2.0%</text>
<text transform="translate(547.10,511.69) scale(1,1.1)" x="0" y="3.47" font-family='"Liberation Sans", sans-serif' font-size="9.7" font-weight="bold" fill="#1f3864" stroke="#1f3864" stroke-width="0.22" text-anchor="middle">2.5%</text>
<text transform="translate(547.10,478.14) scale(1,1.1)" x="0" y="3.47" font-family='"Liberation Sans", sans-serif' font-size="9.7" font-weight="bold" fill="#1f3864" stroke="#1f3864" stroke-width="0.22" text-anchor="middle">3.0%</text>
<text transform="translate(547.10,444.60) scale(1,1.1)" x="0" y="3.47" font-family='"Liberation Sans", sans-serif' font-size="9.7" font-weight="bold" fill="#1f3864" stroke="#1f3864" stroke-width="0.22" text-anchor="middle">3.5%</text>
<text transform="translate(74.45,691.00) scale(1,1.05)" x="0" y="3.44" font-family='"Liberation Sans", sans-serif' font-size="9.6" font-weight="bold" fill="#1f3864" stroke="#1f3864" stroke-width="0.22" text-anchor="middle">2016</text>
<text transform="translate(122.15,691.00) scale(1,1.05)" x="0" y="3.44" font-family='"Liberation Sans", sans-serif' font-size="9.6" font-weight="bold" fill="#1f3864" stroke="#1f3864" stroke-width="0.22" text-anchor="middle">2017</text>
<text transform="translate(169.85,691.00) scale(1,1.05)" x="0" y="3.44" font-family='"Liberation Sans", sans-serif' font-size="9.6" font-weight="bold" fill="#1f3864" stroke="#1f3864" stroke-width="0.22" text-anchor="middle">2018</text>
<text transform="translate(217.55,691.00) scale(1,1.05)" x="0" y="3.44" font-family='"Liberation Sans", sans-serif' font-size="9.6" font-weight="bold" fill="#1f3864" stroke="#1f3864" stroke-width="0.22" text-anchor="middle">2019</text>
<text transform="translate(265.25,691.00) scale(1,1.05)" x="0" y="3.44" font-family='"Liberation Sans", sans-serif' font-size="9.6" font-weight="bold" fill="#1f3864" stroke="#1f3864" stroke-width="0.22" text-anchor="middle">2020</text>
<text transform="translate(312.95,691.00) scale(1,1.05)" x="0" y="3.44" font-family='"Liberation Sans", sans-serif' font-size="9.6" font-weight="bold" fill="#1f3864" stroke="#1f3864" stroke-width="0.22" text-anchor="middle">2021</text>
<text transform="translate(360.65,691.00) scale(1,1.05)" x="0" y="3.44" font-family='"Liberation Sans", sans-serif' font-size="9.6" font-weight="bold" fill="#1f3864" stroke="#1f3864" stroke-width="0.22" text-anchor="middle">2022</text>
<text transform="translate(408.35,691.00) scale(1,1.05)" x="0" y="3.44" font-family='"Liberation Sans", sans-serif' font-size="9.6" font-weight="bold" fill="#1f3864" stroke="#1f3864" stroke-width="0.22" text-anchor="middle">2023</text>
<text transform="translate(456.05,691.00) scale(1,1.05)" x="0" y="3.44" font-family='"Liberation Sans", sans-serif' font-size="9.6" font-weight="bold" fill="#1f3864" stroke="#1f3864" stroke-width="0.22" text-anchor="middle">2024</text>
<text transform="translate(503.75,691.00) scale(1,1.05)" x="0" y="3.44" font-family='"Liberation Sans", sans-serif' font-size="9.6" font-weight="bold" fill="#1f3864" stroke="#1f3864" stroke-width="0.22" text-anchor="middle">2025</text>
<text transform="translate(21.30,561.80) rotate(-90)" x="0" y="3.44" font-family='"Liberation Sans", sans-serif' font-size="9.6" font-weight="bold" fill="#1f3864" stroke="#1f3864" stroke-width="0.22" text-anchor="middle" >Milyon manat</text>
<text transform="translate(566.00,562.50) rotate(-90)" x="0" y="3.44" font-family='"Liberation Sans", sans-serif' font-size="9.6" font-weight="bold" fill="#1f3864" stroke="#1f3864" stroke-width="0.22" text-anchor="middle" >Dövlət büdcəsi xərclərinə nisbəti</text>
<rect x="202.50" y="445.70" width="20.00" height="3.60" fill="#bfbfbf" />
<rect x="202.50" y="459.40" width="20.00" height="3.60" fill="#5b9bd5" />
<circle cx="212.50" cy="474.50" r="1.7" fill="#ed7d31"/>
<line x1="202.50" y1="488.00" x2="222.50" y2="488.00" stroke="#70ad47" stroke-width="2.0" />
<circle cx="212.50" cy="488.00" r="1.9" fill="#70ad47" stroke="#fff" stroke-width="0.6"/>
<line x1="202.50" y1="501.30" x2="222.50" y2="501.30" stroke="#ed7d31" stroke-width="2.0" />
<circle cx="212.50" cy="501.30" r="1.9" fill="#ed7d31" stroke="#fff" stroke-width="0.6"/>
<text x="225.80" y="450.29" font-family='"Liberation Sans", sans-serif' font-size="7.8" font-weight="bold" font-style="normal" fill="#1f3864" text-anchor="start" textLength="37.2" lengthAdjust="spacingAndGlyphs" stroke="#1f3864" stroke-width="0.12">Faiz borcu</text>
<text x="225.80" y="463.99" font-family='"Liberation Sans", sans-serif' font-size="7.8" font-weight="bold" font-style="normal" fill="#1f3864" text-anchor="start" textLength="35.5" lengthAdjust="spacingAndGlyphs" stroke="#1f3864" stroke-width="0.12">Əsas borc</text>
<text x="225.80" y="477.29" font-family='"Liberation Sans", sans-serif' font-size="7.8" font-weight="bold" font-style="normal" fill="#1f3864" text-anchor="start" textLength="117.5" lengthAdjust="spacingAndGlyphs" stroke="#1f3864" stroke-width="0.12">Cəmi daxili borca xidmət xərcləri</text>
<text x="225.80" y="490.79" font-family='"Liberation Sans", sans-serif' font-size="7.8" font-weight="bold" font-style="normal" fill="#1f3864" text-anchor="start" textLength="203.0" lengthAdjust="spacingAndGlyphs" stroke="#1f3864" stroke-width="0.12">Cəmi daxili borca xidmət xərcləri/ dövlət büdcəsi xərcləri</text>
<text x="225.80" y="504.09" font-family='"Liberation Sans", sans-serif' font-size="7.8" font-weight="bold" font-style="normal" fill="#1f3864" text-anchor="start" textLength="322.5" lengthAdjust="spacingAndGlyphs" stroke="#1f3864" stroke-width="0.12">Cəmi daxili borca xidmət xərcləri/ dövlət büdcəsi xərcləri (yeni istiqraz buraxılışı olmadan)</text>
</svg>
</body></html>
